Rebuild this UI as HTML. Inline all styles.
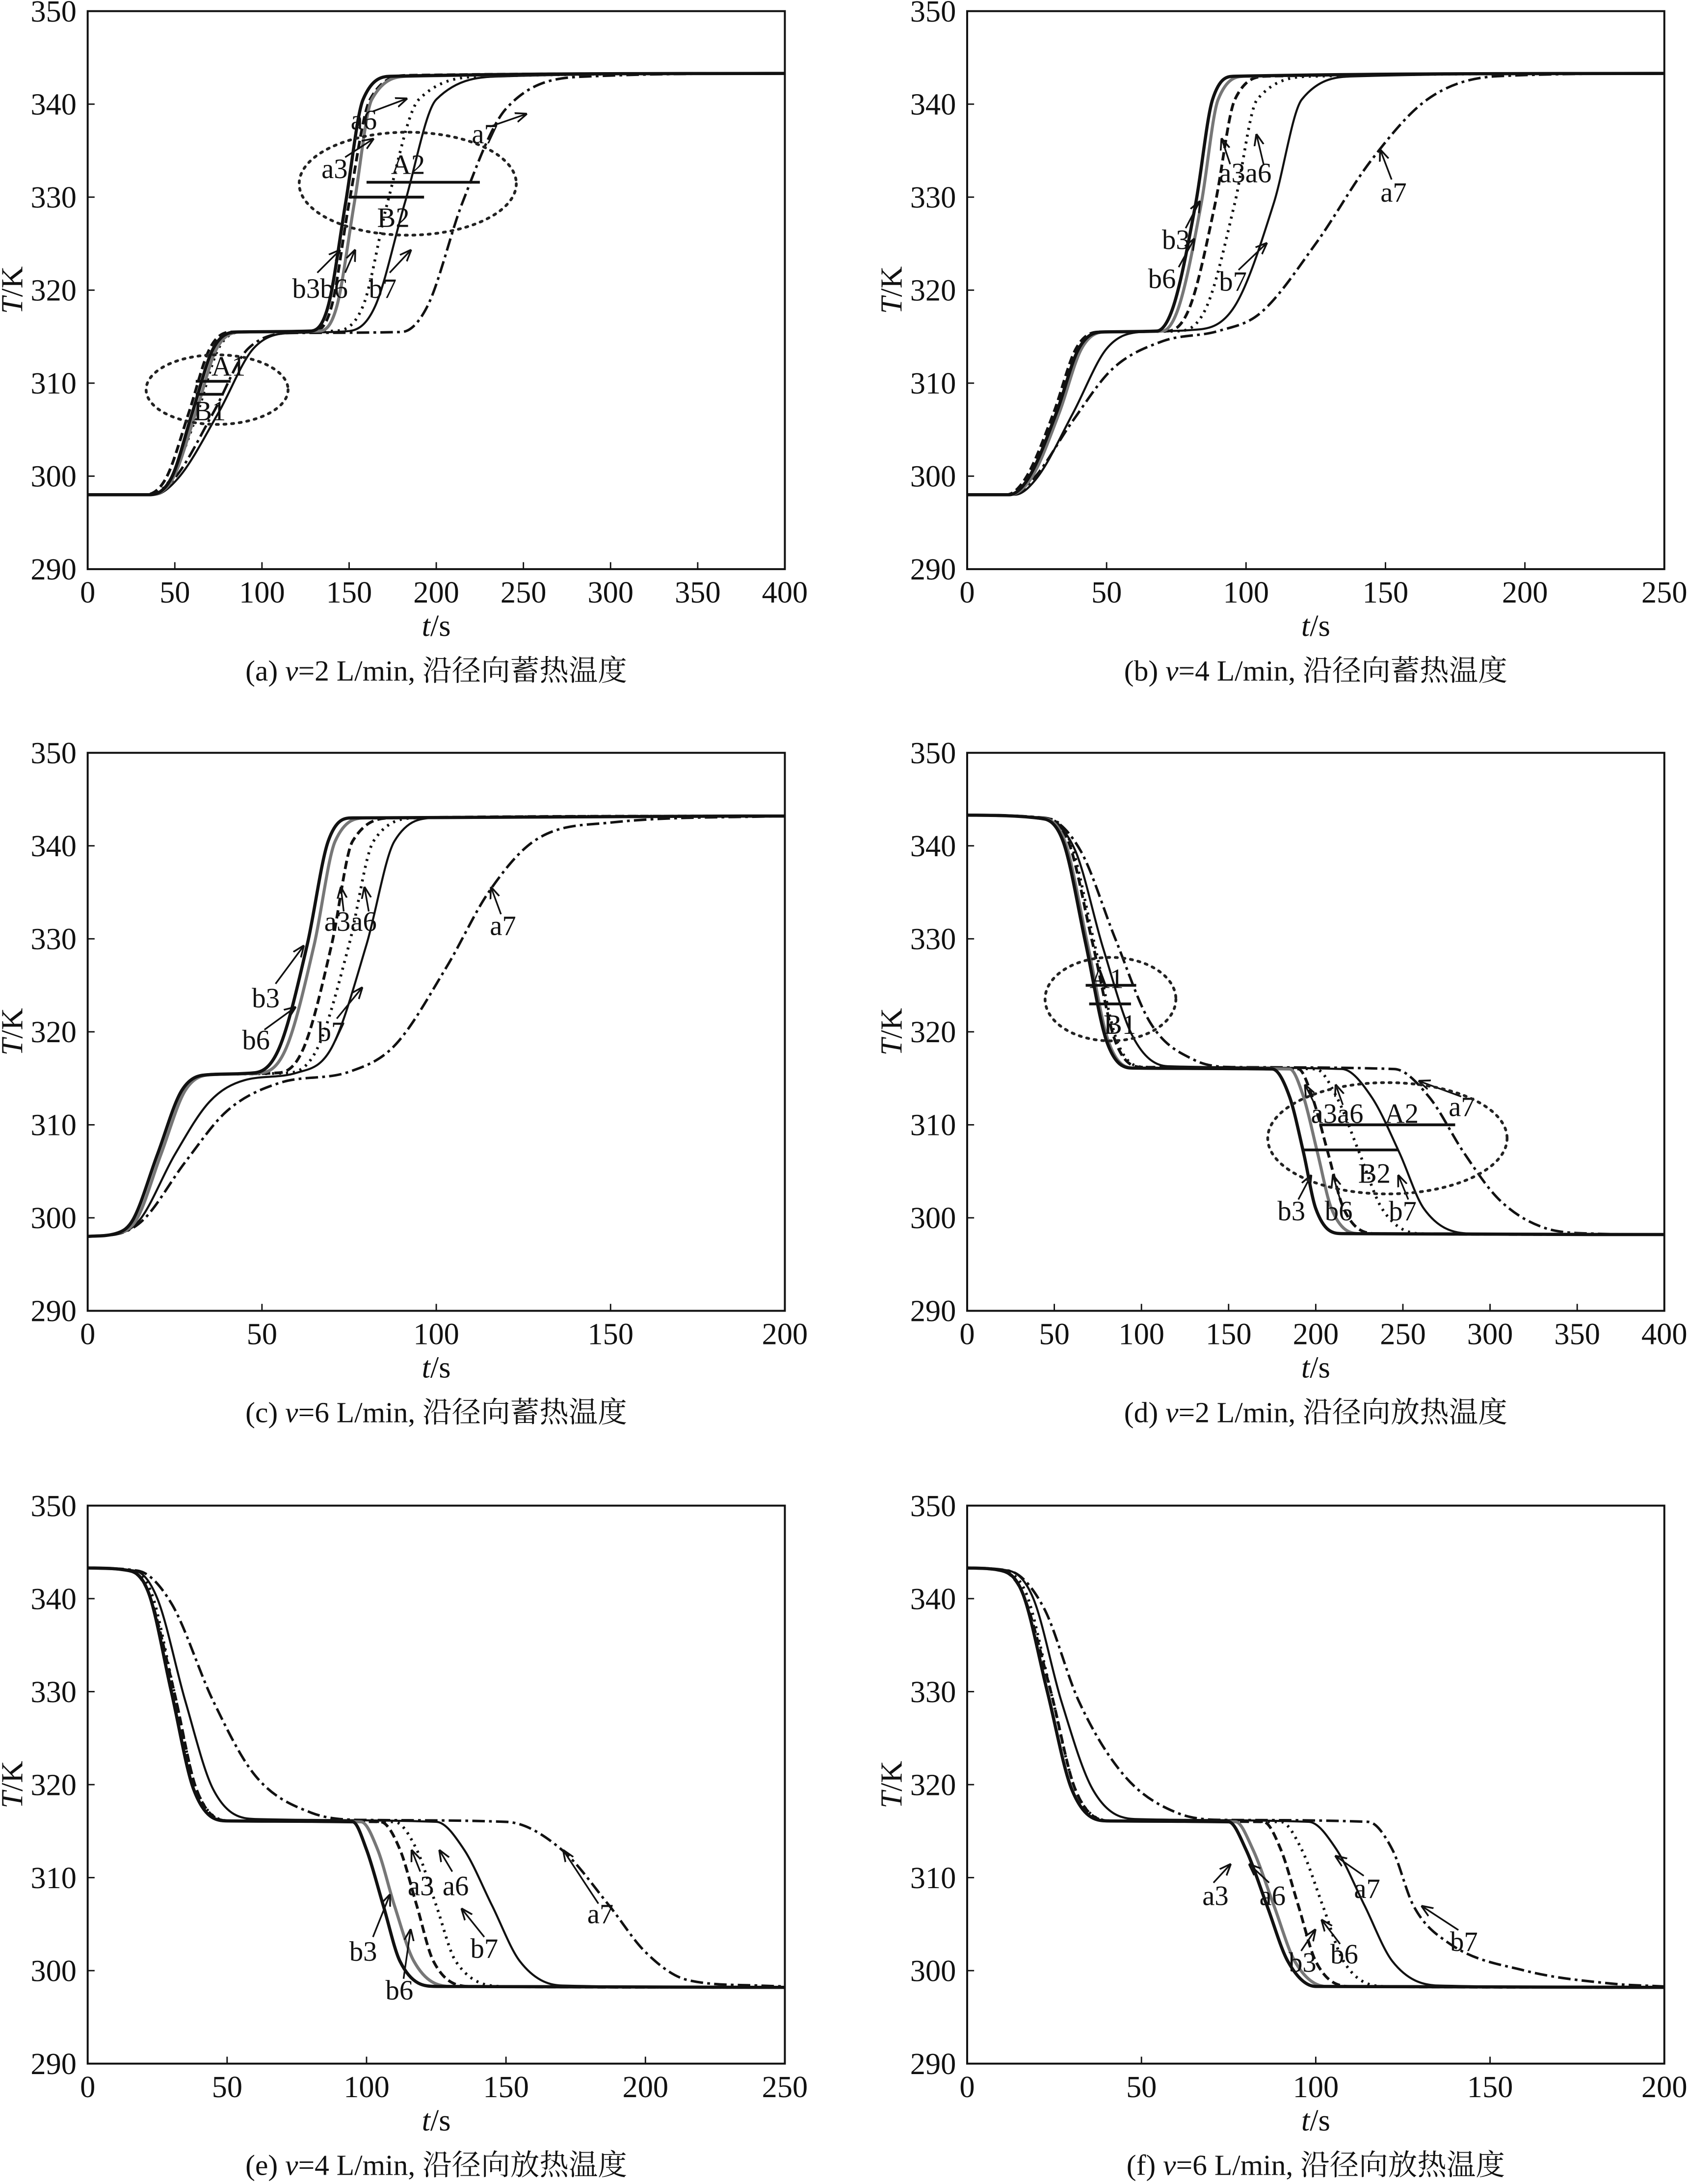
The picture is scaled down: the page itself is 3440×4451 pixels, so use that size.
<!DOCTYPE html>
<html><head><meta charset="utf-8"><style>
html,body{margin:0;padding:0;background:#fff}
svg{display:block}
</style></head><body>
<svg id="fig" width="3440" height="4451" viewBox="0 0 1213 1569.5" xmlns="http://www.w3.org/2000/svg"></svg>
<script>
// ---- data (t [s], T [K]) ----
const panelCaptions = ["(a) ", "(b) ", "(c) ", "(d) ", "(e) ", "(f) "];
const panelFlow = ["2", "4", "6", "2", "4", "6"];
const panelMode = ["沿径向蓄热温度","沿径向蓄热温度","沿径向蓄热温度","沿径向放热温度","沿径向放热温度","沿径向放热温度"];
const xMaxes = [400, 250, 200, 400, 250, 200];
const xSteps = [50, 50, 50, 50, 50, 50];
const yTicks = [290, 300, 310, 320, 330, 340, 350];

const seriesA = {
 b3: [[0,298],[35,298],[48,299.8],[60,306.8],[72,313.7],[85,315.5],[128,315.6],[138,318.3],[148,329.4],[158,340.5],[175,343],[400,343.3]],
 b6: [[0,298],[36,298],[49,299.8],[62,306.8],[74,313.7],[88,315.5],[133,315.6],[143,318.3],[153,329.4],[163,340.5],[185,343],[400,343.3]],
 a3: [[0,298],[33,298],[45,299.8],[58,306.8],[70,313.7],[82,315.5],[130,315.6],[140,318.3],[150,329.4],[162,340.5],[185,343.1],[400,343.3]],
 a6: [[0,298],[35,298],[48,299.8],[63,306.8],[75,313.7],[88,315.5],[140,315.6],[158,318.3],[172,329.4],[190,340.5],[230,343],[400,343.3]],
 b7: [[0,298],[38,298],[52,299.8],[75,306.8],[95,313.7],[118,315.4],[150,315.6],[165,318.3],[182,329.4],[200,340.5],[240,343],[400,343.3]],
 a7: [[0,298],[36,298],[50,299.8],[72,306.8],[92,313.7],[120,315.4],[180,315.5],[195,318.3],[215,329.4],[240,339.5],[290,343],[400,343.3]]
};
const seriesB = {
 b3: [[0,298],[15,298],[22,299.8],[32,306.8],[40,313.7],[48,315.5],[68,315.6],[74,318.3],[82,329.4],[88,340.5],[96,343],[250,343.3]],
 b6: [[0,298],[15,298],[23,299.8],[33,306.8],[41,313.7],[49,315.5],[70,315.6],[76,318.3],[84,329.4],[90,340.5],[100,343],[250,343.3]],
 a3: [[0,298],[14,298],[21,299.8],[31,306.8],[39,313.7],[47,315.5],[72,315.6],[80,318.3],[89,329.4],[96,340.5],[108,343],[250,343.3]],
 a6: [[0,298],[15,298],[22,299.8],[32,306.8],[40,313.7],[49,315.5],[76,315.6],[86,318.3],[96,329.4],[104,340.5],[125,343],[250,343.3]],
 b7: [[0,298],[17,298],[25,299.8],[38,306.8],[50,313.7],[62,315.5],[80,315.7],[96,318.3],[110,329.4],[120,340.5],[140,343],[250,343.3]],
 a7: [[0,298],[16,298],[24,299.8],[38,306],[52,311.5],[70,314.5],[90,315.6],[105,317.5],[125,325],[145,334],[165,340.5],[190,343],[250,343.3]]
};
const seriesC = {
 b3: [[0,298],[8,298.3],[13,299.8],[20,306.8],[27,313.7],[35,315.4],[48,315.6],[55,318.3],[63,329.4],[69,340.5],[76,343],[200,343.2]],
 b6: [[0,298],[8,298.3],[14,299.8],[21,306.8],[28,313.7],[36,315.4],[50,315.6],[57,318.3],[65,329.4],[71,340.5],[80,343],[200,343.2]],
 a3: [[0,298],[8,298.3],[13,299.8],[20,306.8],[27,313.7],[35,315.4],[55,315.6],[62,318.3],[70,329.4],[76,340.5],[88,343],[200,343.2]],
 a6: [[0,298],[8,298.3],[14,299.8],[21,306.8],[28,313.7],[36,315.4],[58,315.6],[66,318.3],[75,329.4],[82,340.5],[95,343],[200,343.2]],
 b7: [[0,298],[9,298.3],[15,299.8],[25,306.8],[35,312.5],[45,314.8],[60,315.6],[70,318.3],[80,329.4],[88,340.5],[100,343],[200,343.2]],
 a7: [[0,298],[9,298.3],[16,299.8],[28,306],[40,311.5],[55,314.5],[75,315.7],[88,318.5],[103,327],[115,335],[128,340.5],[150,342.5],[200,343.2]]
};
const seriesD = {
 b3: [[0,343.3],[40,343],[55,340.5],[68,329.5],[80,319],[95,316.1],[175,316],[185,313],[193,307],[200,301],[215,298.3],[400,298.2]],
 b6: [[0,343.3],[41,343],[56,340.5],[69,329.5],[81,319],[96,316.1],[185,316],[193,313],[201,307],[209,301],[225,298.3],[400,298.2]],
 a3: [[0,343.3],[42,343],[58,340.5],[72,329.5],[85,319],[100,316.2],[190,316],[198,313],[207,307],[216,301],[235,298.3],[400,298.2]],
 a6: [[0,343.3],[43,343],[59,340.5],[73,329.5],[86,319],[102,316.2],[200,316],[212,313],[225,307],[238,301],[260,298.3],[400,298.2]],
 b7: [[0,343.3],[45,342.8],[62,339.5],[78,329],[95,319.5],[115,316.3],[215,316],[232,313],[248,307],[262,301],[290,298.3],[400,298.2]],
 a7: [[0,343.3],[45,343],[65,339.5],[85,330],[105,321],[130,317],[155,316.2],[245,316],[265,313],[285,307],[305,302],[330,299],[360,298.3],[400,298.2]]
};
const seriesE = {
 b3: [[0,343.3],[15,343],[22,340.5],[30,330],[38,319.5],[50,316.1],[95,316],[100,313],[106,307],[112,301],[125,298.3],[250,298.2]],
 b6: [[0,343.3],[15,343],[22,340.5],[30,330],[38,319.5],[50,316.1],[98,316],[104,313],[110,307],[117,301],[130,298.3],[250,298.2]],
 a3: [[0,343.3],[15,343],[22,340.5],[31,330],[39,319.5],[51,316.1],[105,316],[112,313],[118,307],[124,301],[138,298.3],[250,298.2]],
 a6: [[0,343.3],[15,343],[23,340.5],[31,330],[39,319.5],[52,316.1],[110,316],[118,313],[125,307],[132,301],[150,298.3],[250,298.2]],
 b7: [[0,343.3],[17,343],[25,340],[35,329],[45,319.5],[60,316.3],[125,316],[135,313],[145,307],[155,301],[170,298.4],[250,298.2]],
 a7: [[0,343.3],[18,343],[30,339.5],[45,329],[60,321],[80,317],[100,316.2],[150,316],[170,313],[187,307],[200,302],[215,299],[240,298.4],[250,298.3]]
};
const seriesF = {
 b3: [[0,343.3],[10,343],[16,340.5],[23,330],[30,319.5],[40,316.1],[75,316],[80,313],[86,307],[92,301],[100,298.3],[200,298.2]],
 b6: [[0,343.3],[10,343],[16,340.5],[23,330],[30,319.5],[40,316.1],[77,316],[82,313],[88,307],[94,301],[103,298.3],[200,298.2]],
 a3: [[0,343.3],[10,343],[16,340.5],[24,330],[31,319.5],[41,316.1],[85,316],[90,313],[95,307],[100,301],[110,298.3],[200,298.2]],
 a6: [[0,343.3],[10,343],[17,340.5],[24,330],[31,319.5],[42,316.1],[90,316],[96,313],[102,307],[108,301],[120,298.3],[200,298.2]],
 b7: [[0,343.3],[12,343],[19,340],[27,329],[36,319.5],[48,316.3],[98,316],[106,313],[114,307],[122,301],[135,298.4],[200,298.2]],
 a7: [[0,343.3],[12,343],[22,339],[32,329],[45,321],[60,317],[75,316.2],[115,316],[122,313],[128,307],[138,303],[160,300],[185,298.6],[200,298.3]]
};
const allSeries = [seriesA, seriesB, seriesC, seriesD, seriesE, seriesF];

// ---- layout ----
const panels = [
 {x0:63,y0:8},{x0:695,y0:8},{x0:63,y0:541},{x0:695,y0:541},{x0:63,y0:1082},{x0:695,y0:1082}
];
const PW=501, PH=401, YMIN=290, YMAX=350;
const styles = {
 b3:{stroke:"#111",w:2.3,dash:""},
 b6:{stroke:"#777",w:2.2,dash:""},
 a3:{stroke:"#111",w:2,dash:"6,3"},
 a6:{stroke:"#111",w:2,dash:"1.5,3.5"},
 b7:{stroke:"#111",w:1.5,dash:""},
 a7:{stroke:"#111",w:1.8,dash:"9,3,2,3"}
};
const labels = [
 [["a3",231,128],["a6",252,93],["a7",339,103],["A2",281,125],["B2",271,163],["b3b6",210,214],["b7",265,214],["A1",152,270],["B1",139,302]],
 [["a3a6",876,131],["a7",992,145],["b3",835,179],["b6",825,207],["b7",876,209]],
 [["a3a6",233,669],["a7",352,672],["b3",181,724],["b6",174,754],["b7",228,748]],
 [["A1",783,710],["B1",793,743],["a3a6",942,807],["A2",995,807],["a7",1041,802],["B2",976,850],["b3",918,877],["b6",952,877],["b7",998,877]],
 [["a3",293,1362],["a6",318,1362],["a7",422,1382],["b3",251,1409],["b6",277,1437],["b7",338,1407]],
 [["a3",864,1369],["a6",905,1369],["a7",973,1364],["b3",926,1417],["b6",956,1411],["b7",1042,1402]]
];
const arrows = [
 [[248,113,268,100],[268,80,292,71],[352,91,378,82],[228,196,244,180],[248,196,255,180],[280,196,295,180]],
 [[884,118,878,100],[908,118,903,97],[1000,129,992,108],[852,164,862,145],[847,192,858,172],[890,194,910,175]],
 [[247,655,245,638],[265,655,262,638],[360,657,353,638],[198,707,218,680],[190,740,212,724],[242,732,260,710]],
 [[945,794,938,780],[965,794,960,780],[1050,788,1020,777],[933,862,942,845],[963,862,958,845],[1012,862,1005,845]],
 [[302,1345,296,1330],[325,1345,316,1330],[430,1368,405,1330],[268,1392,280,1362],[290,1422,295,1387],[348,1392,332,1372]],
 [[872,1353,884,1340],[912,1353,898,1340],[980,1348,960,1334],[935,1402,945,1387],[963,1397,950,1380],[1048,1387,1022,1370]]
];
const ellipses = [[[0,293,132,78,37],[0,156,280,51,25]],[],[],[[3,798,718,47,30],[3,997,818,86,40]],[],[]];
const bars = [[[0,160,331.6,225],[0,150,330,193],[0,62,310.2,82],[0,62,308.8,78]],[],[],[[3,68,325,97],[3,70,323,94],[3,202,310,280],[3,192,307.3,247]],[],[]];

const NS="http://www.w3.org/2000/svg";
const svg=document.getElementById('fig');
function mk(tag,attrs,parent){const e=document.createElementNS(NS,tag);for(const k in attrs)e.setAttribute(k,attrs[k]);(parent||svg).appendChild(e);return e;}
mk('rect',{x:0,y:0,width:1213,height:1569.5,fill:'#fff'});
const defs=mk('defs',{});
const mrk=mk('marker',{id:'ah',viewBox:'0 0 10 10',refX:9,refY:5,markerWidth:7,markerHeight:7,orient:'auto'},defs);
mk('path',{d:'M0,1 L10,5 L0,9',fill:'none',stroke:'#111','stroke-width':1.5},mrk);

function monoPath(pts,sx,sy){
 const n=pts.length,xs=pts.map(p=>sx(p[0])),ys=pts.map(p=>sy(p[1]));
 const d=[],m=new Array(n);
 for(let i=0;i<n-1;i++)d.push((ys[i+1]-ys[i])/(xs[i+1]-xs[i]));
 m[0]=d[0];m[n-1]=d[n-2];
 for(let i=1;i<n-1;i++){m[i]=(d[i-1]*d[i]<=0)?0:(d[i-1]+d[i])/2;}
 for(let i=0;i<n-1;i++){if(d[i]===0){m[i]=0;m[i+1]=0;continue;}const a=m[i]/d[i],b=m[i+1]/d[i],s=a*a+b*b;if(s>9){const t=3/Math.sqrt(s);m[i]=t*a*d[i];m[i+1]=t*b*d[i];}}
 let p=`M${xs[0]},${ys[0]}`;
 for(let i=0;i<n-1;i++){const h=(xs[i+1]-xs[i])/3;p+=` C${xs[i]+h},${ys[i]+m[i]*h} ${xs[i+1]-h},${ys[i+1]-m[i+1]*h} ${xs[i+1]},${ys[i+1]}`;}
 return p;
}

const font='"Liberation Serif","Noto Serif CJK SC",serif';
panels.forEach((P,pi)=>{
 const g=mk('g',{});
 
 
 const xmax=xMaxes[pi];
 const sx=t=>P.x0+t/xmax*PW, sy=T=>P.y0+(YMAX-T)/(YMAX-YMIN)*PH;
 const clip=mk('clipPath',{id:'c'+pi},defs);mk('rect',{x:P.x0,y:P.y0,width:PW,height:PH},clip);
 const ser=allSeries[pi];
 ['a7','b7','a6','a3','b6','b3'].forEach(k=>{
  const st=styles[k];
  const p=mk('path',{d:monoPath(ser[k],sx,sy),fill:'none',stroke:st.stroke,'stroke-width':st.w,'stroke-dasharray':st.dash,'clip-path':`url(#c${pi})`},g);
  
  
 });
 const fr=mk('rect',{x:P.x0,y:P.y0,width:PW,height:PH,fill:'none',stroke:'#111','stroke-width':1.4},g);
 
 
 yTicks.forEach(v=>{
  mk('line',{x1:P.x0,x2:P.x0+5,y1:sy(v),y2:sy(v),stroke:'#111','stroke-width':1},g);
  const t=mk('text',{x:P.x0-8,y:sy(v)+7.5,'text-anchor':'end','font-family':font,'font-size':22,fill:'#111'},g);
  t.textContent=v;
  
  
 });
 for(let v=0;v<=xmax;v+=xSteps[pi]){
  mk('line',{x1:sx(v),x2:sx(v),y1:P.y0+PH,y2:P.y0+PH-5,stroke:'#111','stroke-width':1},g);
  const t=mk('text',{x:sx(v),y:P.y0+PH+24,'text-anchor':'middle','font-family':font,'font-size':22,fill:'#111'},g);
  t.textContent=v;
  
  
 }
 const yl=mk('text',{x:0,y:0,transform:`translate(${P.x0-47},${P.y0+PH/2}) rotate(-90)`,'text-anchor':'middle','font-family':font,'font-size':22,fill:'#111'},g);
 yl.innerHTML='<tspan font-style="italic">T</tspan>/K';
 
 
 const xl=mk('text',{x:P.x0+PW/2,y:P.y0+PH+48,'text-anchor':'middle','font-family':font,'font-size':22,fill:'#111'},g);
 xl.innerHTML='<tspan font-style="italic">t</tspan>/s';
 
 
 const cap=mk('text',{x:P.x0+PW/2,y:P.y0+PH+80,'text-anchor':'middle','font-family':font,'font-size':21,fill:'#111'},g);
 cap.innerHTML=panelCaptions[pi]+'<tspan font-style="italic">v</tspan>='+panelFlow[pi]+' L/min, '+panelMode[pi];
 
 
 labels[pi].forEach(L=>{
  const t=mk('text',{x:L[1],y:L[2],'font-family':font,'font-size':20,fill:'#111'},g);
  t.textContent=L[0];
  
  
 });
 arrows[pi].forEach(A=>{
  const l=mk('line',{x1:A[0],y1:A[1],x2:A[2],y2:A[3],stroke:'#111','stroke-width':1.2,'marker-end':'url(#ah)'},g);
  
  
 });
 ellipses[pi].forEach(E=>{
  const e=mk('ellipse',{cx:E[1],cy:E[2],rx:E[3],ry:E[4],fill:'none',stroke:'#222','stroke-width':2,'stroke-dasharray':'1.5,4','stroke-linecap':'round'},g);
  
  
 });
 bars[pi].forEach(B=>{
  const l=mk('line',{x1:sx(B[1]),x2:sx(B[3]),y1:sy(B[2]),y2:sy(B[2]),stroke:'#111','stroke-width':2},g);
  
  
 });
});
</script>
</body></html>
